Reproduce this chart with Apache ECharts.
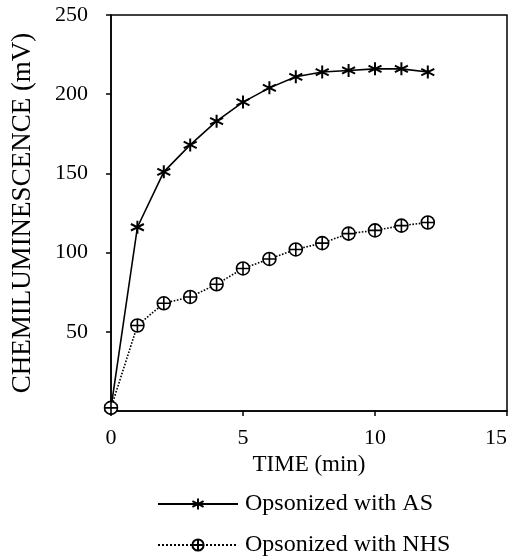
<!DOCTYPE html>
<html>
<head>
<meta charset="utf-8">
<script src="https://cdn.jsdelivr.net/npm/echarts@6/dist/echarts.min.js"></script>
<style>
  html, body { margin: 0; padding: 0; background: #fff; }
  #main { width: 514px; height: 560px; }
</style>
</head>
<body>
<div id="main"></div>
<script>
// time (min)
var times = [0, 1, 2, 3, 4, 5, 6, 7, 8, 9, 10, 11, 12];
// chemiluminescence (mV)
var asValues = [2, 116, 151, 168, 183, 195, 204, 211, 214, 215, 216, 216, 214];
var nhsValues = [2, 54, 68, 72, 80, 90, 96, 102, 106, 112, 114, 117, 119];
var seriesNames = ['Opsonized with AS', 'Opsonized with NHS'];

var font = 'Liberation Serif';
var asteriskPath = 'path://M0,-6L0,6M-5.2,-3L5.2,3M-5.2,3L5.2,-3';
var circlePlusPath = 'path://M-6,0A6,6 0 1,1 6,0A6,6 0 1,1 -6,0ZM-6,0L6,0M0,-6L0,6';

function pairs(vals) {
    return times.map(function (t, i) { return [t, vals[i]]; });
}

var myChart = echarts.init(document.getElementById('main'));
var option = {
    backgroundColor: '#fff',
    animation: false,
    grid: {
        left: 111,
        right: 7,
        top: 15,
        bottom: 149,
        show: true,
        borderColor: '#000',
        borderWidth: 1.5,
        backgroundColor: 'transparent'
    },
    legend: {
        orient: 'vertical',
        left: 157,
        top: 492,
        padding: 0,
        itemWidth: 80,
        itemHeight: 14,
        itemGap: 17,
        textStyle: {fontFamily: font, fontSize: 24, color: '#000', padding: [0, 0, 0, 2]},
        data: seriesNames
    },
    xAxis: {
        type: 'value',
        min: 0,
        max: 15,
        interval: 5,
        name: 'TIME (min)',
        nameLocation: 'middle',
        nameGap: 41,
        nameTextStyle: {fontFamily: font, fontSize: 23, color: '#000'},
        axisLine: {lineStyle: {color: '#000', width: 1.5}},
        axisTick: {show: true, length: 5, lineStyle: {color: '#000', width: 1.5}},
        axisLabel: {fontFamily: font, fontSize: 22, color: '#000', margin: 16, alignMaxLabel: 'right'},
        splitLine: {show: false}
    },
    yAxis: {
        type: 'value',
        min: 0,
        max: 250,
        interval: 50,
        name: 'CHEMILUMINESCENCE (mV)',
        nameLocation: 'middle',
        nameGap: 75,
        nameRotate: 90,
        nameTextStyle: {fontFamily: font, fontSize: 27, color: '#000'},
        axisLine: {lineStyle: {color: '#000', width: 1.5}},
        axisTick: {show: true, length: 5, lineStyle: {color: '#000', width: 1.5}},
        axisLabel: {
            fontFamily: font, fontSize: 22, color: '#000', margin: 23,
            formatter: function (v) { return v === 0 ? '' : v; }
        },
        splitLine: {show: false}
    },
    series: [
        {
            name: seriesNames[0],
            type: 'line',
            data: pairs(asValues),
            symbol: asteriskPath,
            symbolSize: 13,
            lineStyle: {color: '#000', width: 1.6, type: 'solid'},
            itemStyle: {color: '#000', borderColor: '#000', borderWidth: 2}
        },
        {
            name: seriesNames[1],
            type: 'line',
            data: pairs(nhsValues),
            symbol: circlePlusPath,
            symbolSize: 13,
            lineStyle: {color: '#000', width: 1.6, type: 'dotted'},
            itemStyle: {color: '#fff', borderColor: '#000', borderWidth: 1.6}
        }
    ]
};
myChart.setOption(option);
</script>
</body>
</html>
